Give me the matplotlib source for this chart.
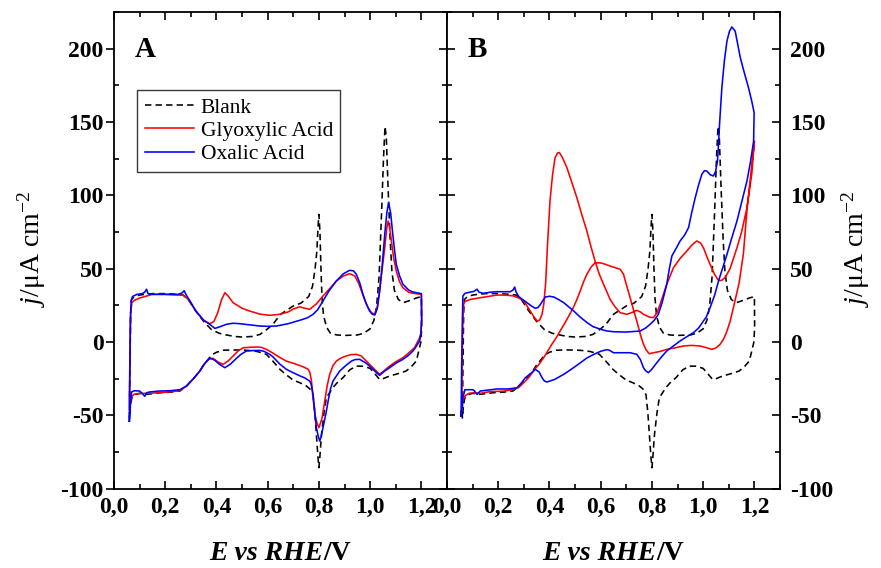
import matplotlib
matplotlib.use("Agg")
import matplotlib.pyplot as plt
from matplotlib.ticker import MultipleLocator, FuncFormatter
from matplotlib.font_manager import FontProperties
from matplotlib.offsetbox import TextArea, HPacker, AnchoredOffsetbox

plt.rcParams['font.family'] = ['Liberation Serif', 'DejaVu Serif']
plt.rcParams['mathtext.fontset'] = 'custom'
plt.rcParams['mathtext.rm'] = 'Liberation Serif'
plt.rcParams['mathtext.it'] = 'Liberation Serif:italic'
plt.rcParams['mathtext.bf'] = 'Liberation Serif:bold'

# ---------------- data (E in V vs RHE, j in uA cm-2) ----------------
blank_E = [0.060, 0.062, 0.065, 0.068, 0.08, 0.10, 0.12, 0.15, 0.20, 0.25, 0.27, 0.29, 0.32, 0.35, 0.38,
           0.41, 0.44, 0.47, 0.50, 0.54, 0.57, 0.60, 0.62, 0.65, 0.70, 0.73, 0.76, 0.775, 0.785, 0.792,
           0.797, 0.800, 0.804, 0.808, 0.812, 0.818, 0.83, 0.845, 0.87, 0.90, 0.95, 0.975, 1.00, 1.015,
           1.025, 1.035, 1.045, 1.052, 1.058, 1.063, 1.07, 1.078, 1.085, 1.095, 1.11, 1.128, 1.15, 1.18,
           1.20,
           1.201, 1.198, 1.19, 1.18, 1.16, 1.14, 1.11, 1.076, 1.05, 1.037, 1.02, 1.00, 0.975, 0.946, 0.92,
           0.894, 0.87, 0.855, 0.84, 0.829, 0.82, 0.81, 0.803, 0.800, 0.796, 0.79, 0.784, 0.777, 0.765,
           0.751, 0.725, 0.70, 0.67, 0.647, 0.62, 0.595, 0.56, 0.53, 0.504, 0.46, 0.426, 0.40, 0.381,
           0.368, 0.35, 0.335, 0.31, 0.283, 0.257, 0.22, 0.179, 0.127, 0.10, 0.08, 0.069, 0.064, 0.060]
blank_j = [-52, -20, 20, 29, 31, 32, 32.5, 33, 33, 32.5, 32, 29, 21, 14, 8.5,
           6, 4.8, 3.8, 3.4, 3.8, 5.2, 9, 12, 18.9, 24.6, 26.5, 31, 38, 50, 62,
           80, 87, 75, 50, 30, 18, 10, 6, 4.8, 4.5, 4.8, 6, 9, 15,
           24, 45, 90, 125, 147, 140, 105, 70, 48, 35, 29, 26.8, 28, 30,
           31,
           10, 0, -6, -13, -17, -19.8, -21.5, -23.2, -25, -25.5, -22, -18, -16.5, -16.4, -19,
           -24.3, -28, -31, -35, -38, -48, -63, -80, -85.7, -78, -63, -48, -36, -32,
           -30, -27.7, -26, -22, -18.5, -13, -8.4, -6.5, -5.8, -5.5, -5.4, -5.6, -7, -8.8,
           -11.8, -15.5, -19.8, -25, -30, -33.4, -34.2, -34.6, -35.7, -35, -36, -38.5, -44, -52]

glyA_E = [0.060, 0.062, 0.065, 0.07, 0.08, 0.10, 0.13, 0.15, 0.20, 0.25, 0.27, 0.29, 0.32, 0.35, 0.374,
          0.39, 0.405, 0.42, 0.433, 0.445, 0.465, 0.50, 0.53, 0.57, 0.608, 0.647, 0.68, 0.70, 0.725,
          0.745, 0.764, 0.79, 0.816, 0.84, 0.868, 0.895, 0.92, 0.94, 0.955, 0.966, 0.98, 0.992, 1.005,
          1.018, 1.028, 1.037, 1.047, 1.057, 1.065, 1.07, 1.076, 1.083, 1.092, 1.102, 1.115, 1.128,
          1.15, 1.167, 1.2,
          1.201, 1.198, 1.193, 1.173, 1.15, 1.128, 1.10, 1.076, 1.055, 1.037, 1.025, 1.011, 0.985,
          0.965, 0.946, 0.925, 0.907, 0.885, 0.868, 0.855, 0.842, 0.832, 0.823, 0.812, 0.80, 0.792,
          0.784, 0.777, 0.771, 0.765, 0.758, 0.74, 0.725, 0.70, 0.673, 0.647, 0.62, 0.595, 0.575,
          0.556, 0.53, 0.504, 0.485, 0.465, 0.445, 0.426, 0.405, 0.387, 0.368, 0.35, 0.335, 0.31,
          0.283, 0.257, 0.22, 0.179, 0.13, 0.10, 0.08, 0.07, 0.064, 0.060]
glyA_j = [-40, -10, 20, 27, 28.5, 30, 31.5, 32.5, 32.5, 32, 32, 29, 21, 14.5, 12.5,
          14, 20, 29, 33.6, 31.5, 26.8, 23, 21.1, 19, 18.2, 18.9, 20.5, 22.5, 24,
          23, 22.3, 26, 31.4, 36, 41.6, 45, 46.6, 45, 40, 34.8, 28, 23.4, 20,
          18.9, 24, 34.8, 50, 64.3, 78, 82.5, 78, 68.9, 57, 48.4, 41, 37,
          34, 33.2, 32.5,
          15, 6, 2.9, -3.9, -7.5, -10.7, -13.5, -16.4, -19.5, -22, -20, -17.5, -13,
          -9.5, -8.4, -8.6, -9.5, -11, -13, -16, -22, -30, -40, -52, -58.4, -55,
          -49.3, -38, -26.6, -21, -18.6, -17, -16, -14.5, -13, -10.5, -7.5, -5, -3.6,
          -3.4, -3.6, -3.9, -6, -9.5, -13, -15.2, -13.5, -11.1, -11.8, -15.5, -19.8, -25,
          -30, -33.2, -34, -34.5, -35, -35, -35.5, -37, -42, -46]

oxaA_E = [0.060, 0.062, 0.064, 0.067, 0.072, 0.09, 0.11, 0.12, 0.127, 0.133, 0.15, 0.20, 0.25, 0.266,
          0.274, 0.282, 0.30, 0.32, 0.35, 0.374, 0.394, 0.415, 0.439, 0.465, 0.491, 0.53, 0.569, 0.60,
          0.634, 0.68, 0.725, 0.755, 0.777, 0.795, 0.816, 0.84, 0.868, 0.895, 0.92, 0.935, 0.946, 0.96,
          0.972, 0.985, 0.998, 1.008, 1.018, 1.028, 1.037, 1.047, 1.057, 1.065, 1.072, 1.08, 1.087,
          1.095, 1.102, 1.115, 1.128, 1.15, 1.167, 1.2,
          1.201, 1.198, 1.193, 1.18, 1.167, 1.15, 1.128, 1.10, 1.076, 1.055, 1.037, 1.025, 1.011, 0.985,
          0.959, 0.94, 0.927, 0.905, 0.881, 0.855, 0.845, 0.836, 0.826, 0.816, 0.808, 0.803, 0.797,
          0.79, 0.784, 0.777, 0.77, 0.764, 0.745, 0.725, 0.70, 0.673, 0.647, 0.62, 0.608, 0.585, 0.569,
          0.545, 0.517, 0.495, 0.478, 0.455, 0.433, 0.41, 0.394, 0.374, 0.355, 0.335, 0.31, 0.283,
          0.257, 0.22, 0.179, 0.14, 0.127, 0.12, 0.11, 0.10, 0.08, 0.069, 0.065, 0.060]
oxaA_j = [-54, -20, 15, 28, 31, 32.5, 33, 34, 36, 33, 32.5, 32.5, 32.5, 33.5,
          35, 32, 27, 21, 15, 12, 9.3, 10.5, 12.1, 12.8, 12.5, 11.7, 10.9, 10.7,
          10.9, 12.5, 14.8, 16.5, 18.9, 22, 28, 35, 41.6, 46.5, 48.9, 48.5, 46.2, 40,
          32.5, 26, 21.1, 19, 18.4, 23, 34.8, 52, 73.5, 88, 95, 88, 75.7,
          63, 53, 45, 39.4, 35.5, 34.1, 33,
          15, 5, 0.7, -3, -6.1, -9, -11.8, -14.5, -17.5, -20, -22.7, -21, -18.6, -14.5,
          -11.8, -12, -13, -16, -19.8, -26.6, -32, -40.2, -50, -58.4, -65, -67.5, -64,
          -58.4, -48, -35.7, -29, -26.6, -24.5, -23, -21, -18.6, -15, -10, -8.4, -6.3, -5.7,
          -5.8, -6.1, -8.5, -11.1, -15, -17.5, -15, -12.5, -10.8, -14.5, -19.8, -25, -30,
          -32.5, -33.2, -33.4, -34, -34.6, -37, -35, -33.4, -33.2, -34, -40, -54]

glyB_E = [0.058, 0.059, 0.062, 0.065, 0.07, 0.09, 0.13, 0.16, 0.195, 0.23, 0.26, 0.28, 0.30, 0.325,
          0.34, 0.352, 0.362, 0.371, 0.378, 0.385, 0.392, 0.402, 0.412, 0.422, 0.432, 0.439, 0.45,
          0.468, 0.487, 0.507, 0.526, 0.546, 0.562, 0.578, 0.595, 0.611, 0.637, 0.656, 0.676, 0.702,
          0.72, 0.741, 0.755, 0.767, 0.79, 0.806, 0.82, 0.832, 0.855, 0.884, 0.91, 0.936, 0.955, 0.975,
          0.99, 1.001, 1.015, 1.027, 1.045, 1.06, 1.072, 1.086, 1.105, 1.132, 1.15, 1.171, 1.19, 1.20,
          1.195, 1.19, 1.18, 1.171, 1.157, 1.14, 1.118, 1.105, 1.093, 1.08, 1.066, 1.05, 1.034, 1.015,
          0.988, 0.955, 0.923, 0.89, 0.858, 0.83, 0.806, 0.79, 0.778, 0.767, 0.755, 0.741, 0.728, 0.715,
          0.702, 0.689, 0.676, 0.66, 0.637, 0.618, 0.598, 0.578, 0.562, 0.546, 0.533, 0.52, 0.507,
          0.493, 0.47, 0.45, 0.43, 0.404, 0.38, 0.36, 0.345, 0.32, 0.298, 0.28, 0.259, 0.22, 0.168,
          0.13, 0.103, 0.085, 0.07, 0.062, 0.058]
glyB_j = [-40, -13, 15, 25.7, 27.6, 29, 30.2, 31, 32, 32, 31.4, 30, 28, 21.1,
          17, 14.3, 15, 18.9, 26, 40, 65, 96, 114, 125.7, 129, 129.1, 126,
          118.9, 109, 98.4, 87, 75.7, 65, 55.2, 46, 39.4, 29, 24, 20, 18.9,
          20, 21.6, 20.5, 18.9, 17, 16.6, 20, 25.7, 38, 50.7, 57, 62, 66, 68.9,
          67.5, 64.3, 58, 53, 46, 42, 42, 44, 50, 64.3, 75, 91.6, 115, 137,
          128, 121, 105, 90, 60, 40, 23.4, 14, 7.5, 2, -1.6, -4, -5, -4,
          -2.7, -2.3, -2.7, -4, -5, -6.5, -7.3, -8, -5.5, -1.6, 5, 14.3, 22, 30.2,
          38, 46.2, 49.6, 50.5, 51.8, 53, 54, 54, 51, 46.2, 41, 34.8, 29,
          23.4, 16, 10, 4, -3, -10, -15, -18, -24, -28, -31, -32.3, -33.5, -33.8,
          -35, -34.6, -35, -36.8, -40, -40]

oxaB_E = [0.055, 0.057, 0.06, 0.062, 0.07, 0.09, 0.105, 0.117, 0.125, 0.143, 0.17, 0.195, 0.225, 0.247,
          0.258, 0.264, 0.27, 0.28, 0.295, 0.3125, 0.33, 0.345, 0.355, 0.365, 0.375, 0.384, 0.40, 0.417,
          0.435, 0.456, 0.475, 0.495, 0.52, 0.547, 0.57, 0.599, 0.625, 0.651, 0.70, 0.754, 0.775, 0.793,
          0.81, 0.825, 0.84, 0.858, 0.868, 0.878, 0.895, 0.91, 0.928, 0.943, 0.955, 0.969, 0.982, 0.995,
          1.005, 1.014, 1.028, 1.04, 1.048, 1.056, 1.06, 1.064, 1.073, 1.083, 1.093, 1.103, 1.112,
          1.125, 1.135, 1.145, 1.16, 1.177, 1.19, 1.199,
          1.198, 1.197, 1.185, 1.171, 1.15, 1.132, 1.11, 1.093, 1.075, 1.06, 1.045, 1.027, 1.012, 1.001,
          0.982, 0.962, 0.935, 0.91, 0.885, 0.858, 0.838, 0.819, 0.80, 0.786, 0.775, 0.767, 0.755,
          0.741, 0.715, 0.676, 0.65, 0.638, 0.632, 0.624, 0.60, 0.573, 0.545, 0.521, 0.49, 0.456, 0.42,
          0.39, 0.38, 0.371, 0.36, 0.345, 0.33, 0.306, 0.29, 0.273, 0.24, 0.195, 0.15, 0.13, 0.117,
          0.108, 0.101, 0.085, 0.07, 0.062, 0.055]
oxaB_j = [-50.5, -20, 15, 31.4, 33.2, 34, 34.5, 36, 34, 33.2, 34, 34.3, 34.3, 34.3,
          35.5, 37.5, 34, 31, 29, 26.8, 24.5, 23, 23.5, 25.7, 28.5, 30.7, 31.2, 30.7,
          29, 26.8, 24, 21.1, 17, 13.2, 10.5, 8.7, 7.5, 7, 6.8, 7.5, 9.5, 12.1,
          15, 18.9, 27, 39.4, 50, 58.7, 64, 68.9, 73, 78, 88, 98.4, 107, 114.4,
          116.8, 116.6, 114, 113.2, 116, 123.4, 135, 148.5, 173.4, 192, 205.3, 212, 214.8,
          212, 203, 193.9, 184, 173.4, 164, 156.4,
          145, 137, 123, 109.8, 95, 82.5, 70, 59.8, 50, 41.6, 32, 23.4, 17, 14.3,
          9.5, 6.4, 3.5, 0.7, -2.5, -6.1, -10, -14.1, -18.5, -20.9, -19.5, -17.5, -12,
          -8.4, -7.3, -7.3, -7.3, -6, -5.5, -5.2, -6.3, -8.4, -11, -14.1, -18, -22, -25.5,
          -27.3, -26.5, -24.3, -20.5, -18.6, -21, -24.3, -28, -31.2, -32, -32, -33, -33.4, -35.7,
          -33.5, -32.5, -32.5, -32.5, -38, -50.5]

series_labels = ["Blank", "Glyoxylic Acid", "Oxalic Acid"]
x_ticks = [0.0, 0.2, 0.4, 0.6, 0.8, 1.0, 1.2]
y_ticks = [-100, -50, 0, 50, 100, 150, 200]

# ---------------- figure ----------------
W, H = 881, 568
fig = plt.figure(figsize=(W / 100, H / 100), dpi=100)
L, M, R = 114 / W, 447 / W, 780 / W
B, T = 1 - 488.7 / H, 1 - 12 / H
axA = fig.add_axes([L, B, M - L, T - B])
axB = fig.add_axes([M, B, R - M, T - B])

lw = 1.15
dash = (4.0, 2.6)

xfmt = FuncFormatter(lambda v, p: f"{v:.1f}".replace('.', ','))
yfmt = FuncFormatter(lambda v, p: f"{int(round(v))}")
tickfp = FontProperties(family='Liberation Serif', weight='bold', size=17)

for ax in (axA, axB):
    ax.set_xlim(0, 1.3)
    ax.set_ylim(-100, 225)
    ax.xaxis.set_major_locator(plt.FixedLocator(x_ticks))
    ax.xaxis.set_minor_locator(MultipleLocator(0.1))
    ax.yaxis.set_major_locator(plt.FixedLocator(y_ticks))
    ax.yaxis.set_minor_locator(MultipleLocator(25))
    ax.xaxis.set_major_formatter(xfmt)
    ax.yaxis.set_major_formatter(yfmt)
    for s in ax.spines.values():
        s.set_linewidth(1.3)
    ax.tick_params(axis='x', which='both', direction='in', top=True, bottom=True, width=1.2)
    ax.tick_params(axis='x', which='major', length=5.5, pad=6)
    ax.tick_params(axis='x', which='minor', length=3.5)
    for lab in ax.get_xticklabels():
        lab.set_fontproperties(tickfp)

# panel A y ticks
axA.tick_params(axis='y', which='major', direction='out', left=True, right=False, length=5.5, width=1.2, pad=2)
axA.tick_params(axis='y', which='minor', direction='in', left=True, right=False, length=3.5, width=1.2)
secA = axA.secondary_yaxis('right')
secA.yaxis.set_major_locator(plt.FixedLocator(y_ticks))
secA.yaxis.set_minor_locator(MultipleLocator(25))
secA.tick_params(axis='y', which='both', direction='in', labelright=False, width=1.2)
secA.tick_params(axis='y', which='major', length=5.5)
secA.tick_params(axis='y', which='minor', length=3.5)
secA.spines['right'].set_linewidth(1.3)
for lab in axA.get_yticklabels():
    lab.set_fontproperties(tickfp)

# panel B y ticks
axB.tick_params(axis='y', which='both', direction='in', left=True, right=True,
                labelleft=False, labelright=True, width=1.2, pad=7)
axB.tick_params(axis='y', which='major', length=5.5)
axB.tick_params(axis='y', which='minor', length=3.5)
for lab in axB.get_yticklabels():
    lab.set_fontproperties(tickfp)

# curves
axA.plot(blank_E, blank_j, color='black', lw=lw, dashes=dash, label=series_labels[0])
axA.plot(glyA_E, glyA_j, color='#FF0000', lw=lw, label=series_labels[1])
axA.plot(oxaA_E, oxaA_j, color='#0000FF', lw=lw, label=series_labels[2])

axB.plot(blank_E, blank_j, color='black', lw=lw, dashes=dash)
axB.plot(glyB_E, glyB_j, color='#FF0000', lw=lw)
axB.plot(oxaB_E, oxaB_j, color='#0000FF', lw=lw)

leg = axA.legend(loc='upper left', bbox_to_anchor=(137 / W, 1 - 90 / H), bbox_transform=fig.transFigure,
                 borderaxespad=0, fancybox=False, framealpha=1, edgecolor='#3a3a3a',
                 prop=dict(family='Liberation Serif', size=15.5), handlelength=2.3,
                 handletextpad=0.3, labelspacing=0.15, borderpad=0.35)
leg.get_frame().set_linewidth(1.0)

# panel letters
fig.text(135 / W, 1 - 57 / H, 'A', fontsize=21, fontweight='bold', family='Liberation Serif',
         ha='left', va='baseline')
fig.text(468 / W, 1 - 57 / H, 'B', fontsize=21, fontweight='bold', family='Liberation Serif',
         ha='left', va='baseline')

# y labels
yl = r'$j$/μA cm$^{\mathregular{-2}}$'
fig.text(32 / W, 1 - 249 / H, yl, fontsize=20, rotation=90, ha='center', va='center',
         family='Liberation Serif')
fig.text(856 / W, 1 - 249 / H, yl, fontsize=20, rotation=90, ha='center', va='center',
         family='Liberation Serif')

# x labels: bold italic "E vs RHE" + bold upright "/V"
for ax in (axA, axB):
    p1 = TextArea('E vs RHE', textprops=dict(fontsize=20, fontweight='bold', style='italic',
                                             family='Liberation Serif'))
    p2 = TextArea('/V', textprops=dict(fontsize=20, fontweight='bold', family='Liberation Serif'))
    box = HPacker(children=[p1, p2], align='baseline', pad=0, sep=0)
    ab = AnchoredOffsetbox(loc='center', child=box, frameon=False,
                           bbox_to_anchor=(0.5, -(553 - 488.7) / 476.7), bbox_transform=ax.transAxes,
                           borderpad=0, pad=0)
    ax.add_artist(ab)

fig.savefig('out.png', dpi=100)
